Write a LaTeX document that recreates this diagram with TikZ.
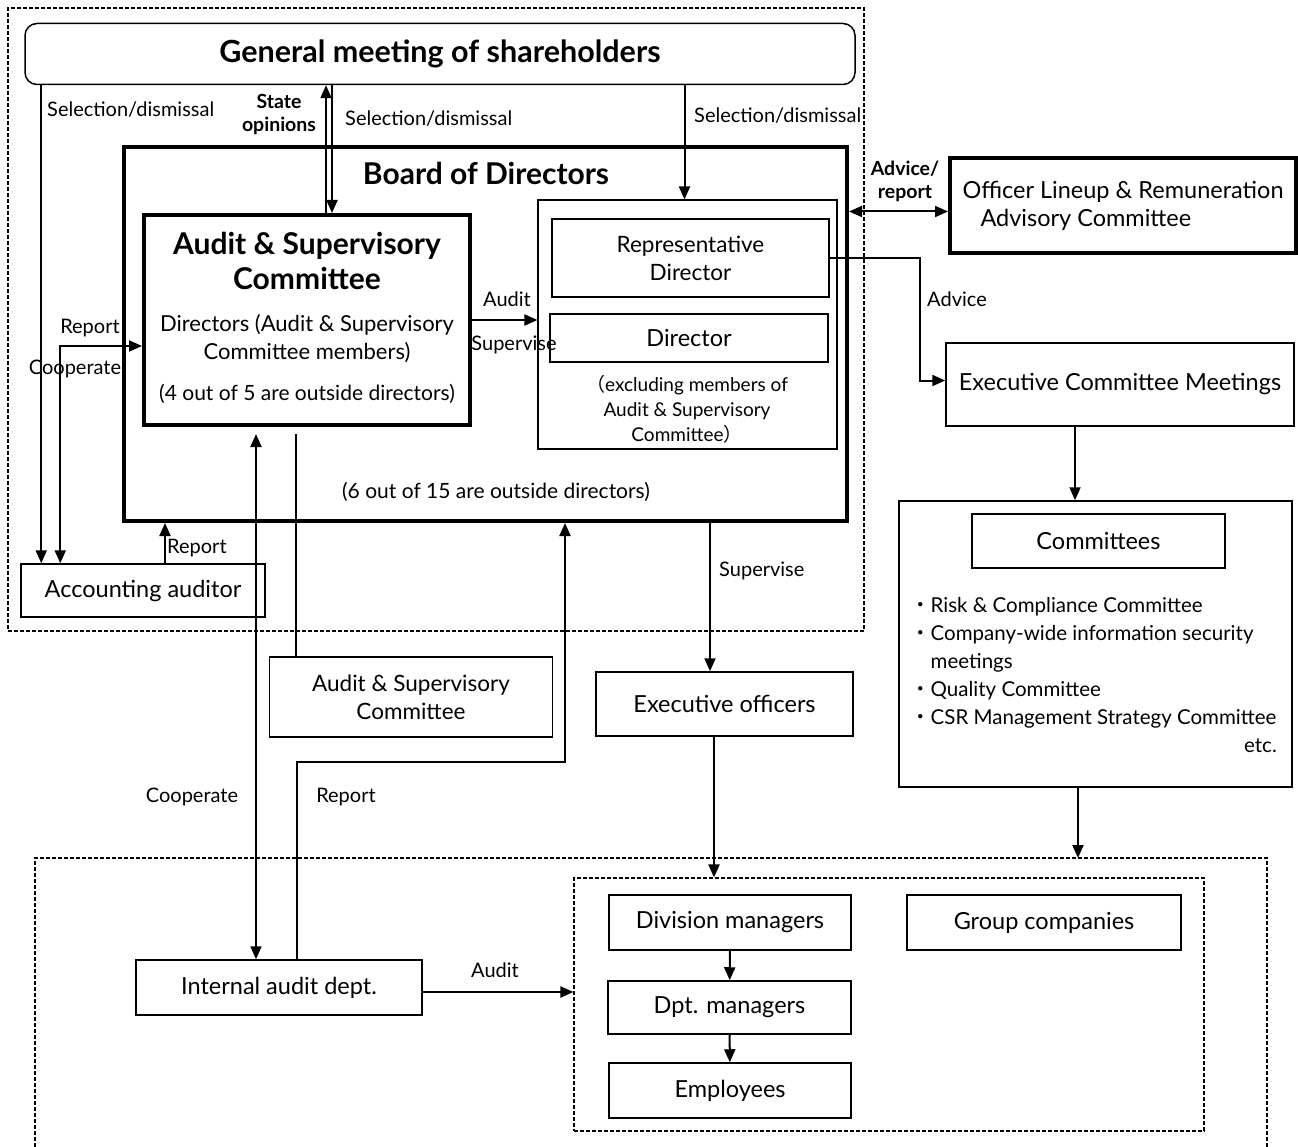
\documentclass[tikz,border=0pt]{standalone}
\usepackage{fontspec}
\setmainfont{Lato}
\newfontfamily\cjk{Noto Sans CJK JP}
\usetikzlibrary{arrows.meta,positioning,calc}
\tikzset{>={Triangle[length=13pt,width=11pt]},
         box/.style={draw, line width=1.5pt, align=center, inner sep=0pt, font=\fontsize{23.5}{28}\selectfont},
         thickbox/.style={box, line width=4pt},
         lbl/.style={inner sep=0pt, align=center, font=\fontsize{20}{23}\selectfont},
         boldlbl/.style={lbl, font=\fontsize{19.5}{23}\selectfont\bfseries},
         arr/.style={line width=2pt},
         grp/.style={draw, line width=1.1pt, dash pattern=on 4pt off 2pt, inner sep=0pt}
        }
\begin{document}
\begin{tikzpicture}[x=1pt, y=-1pt]
\useasboundingbox (0,0) rectangle (1298,1147);

\node[grp, minimum width=856pt, minimum height=623pt](top_area) at (436,319.5){};
\node[box, rounded corners=12pt, minimum width=830pt, minimum height=61pt, font=\fontsize{30.5}{34}\selectfont\bfseries](general_meeting) at (440,54){General meeting of shareholders};

\node[thickbox, minimum width=723pt, minimum height=374pt](board) at (485.5,334){};
\node[font=\fontsize{30}{34}\selectfont\bfseries](board_title) at (486,173){Board of Directors};
\node[lbl, font=\fontsize{21}{25}\selectfont](board_outside) at (496,492){(6 out of 15 are outside directors)};

\node[thickbox, minimum width=326pt, minimum height=210pt](audit_committee) at (307,320){};
\node[align=center, font=\fontsize{30}{35}\selectfont\bfseries](ac_title) at (307,261){Audit \& Supervisory\\Committee};
\node[align=center, font=\fontsize{22}{28}\selectfont](ac_members) at (307,339){Directors (Audit \& Supervisory\\Committee members)};
\node[font=\fontsize{21}{25}\selectfont](ac_outside) at (307,394){(4 out of 5 are outside directors)};

\node[box, line width=1.1pt, minimum width=299pt, minimum height=249pt](director_group) at (687.5,324.5){};
\node[box, minimum width=277pt, minimum height=78pt, font=\fontsize{22.5}{28}\selectfont](rep_director) at (690.5,258){Representative\\Director};
\node[box, minimum width=278pt, minimum height=48pt](director) at (689,338){Director};
\node[lbl, font=\fontsize{19}{25}\selectfont](excluding) at (687,409){{\cjk （}excluding members of\\Audit \& Supervisory\\Committee{\cjk ）}};

\node[box, minimum width=244pt, minimum height=53pt](acc_auditor) at (143,590.5){Accounting auditor};

\node[thickbox, align=left, minimum width=346pt, minimum height=95pt](lineup_committee) at (1123,205.5){Officer Lineup \& Remuneration\\\hspace*{18pt}Advisory Committee};
\node[box, minimum width=348pt, minimum height=83pt](exec_meetings) at (1120,384.5){Executive Committee Meetings};

\node[box, minimum width=393pt, minimum height=286pt](committee_group) at (1095.5,644){};
\node[box, minimum width=253pt, minimum height=54pt](committees) at (1098.5,541){Committees};
\node[lbl, anchor=north west, align=left, font=\fontsize{20.5}{28}\selectfont](committee_list) at (910,597){{\cjk ・}Risk \& Compliance Committee\\{\cjk ・}Company-wide information security\\\hphantom{\cjk ・}meetings\\{\cjk ・}Quality Committee\\{\cjk ・}CSR Management Strategy Committee};
\node[lbl, anchor=east, font=\fontsize{20.5}{28}\selectfont](committee_etc) at (1277,746){etc.};

\node[box, minimum width=283pt, minimum height=80pt, font=\fontsize{22.5}{28}\selectfont](lower_audit_committee) at (411,697){Audit \& Supervisory\\Committee};
\node[box, minimum width=257pt, minimum height=64pt](exec_officers) at (724.5,704){Executive officers};
\node[box, minimum width=286pt, minimum height=55pt](internal_audit) at (279,987.5){Internal audit dept.};

\coordinate (group_top) at (651,858);
\draw[grp] (35,1147) |- (1267,858) -- (1267,1147);
\node[grp, minimum width=630pt, minimum height=253pt](staff_group) at (889,1004.5){};
\node[box, minimum width=242pt, minimum height=55pt](division_managers) at (730,922.5){Division managers};
\node[box, minimum width=243pt, minimum height=53pt](dpt_managers) at (729.5,1007.5){Dpt. managers};
\node[box, minimum width=242pt, minimum height=55pt](employees) at (730,1090.5){Employees};
\node[box, minimum width=274pt, minimum height=55pt](group_companies) at (1044,922.5){Group companies};

\draw[->, arr]([xshift=17pt]general_meeting.south west) -- ([xshift=21pt]acc_auditor.north west);
\node[lbl, anchor=west](sel_left) at (47,110){Selection/dismissal};
\draw[<->, arr]([yshift=-26pt]audit_committee.west) -| ([xshift=40pt]acc_auditor.north west);
\node[lbl](report_left) at (90,328){Report};
\node[lbl](cooperate_left) at (75,369){Cooperate};

\coordinate (opinion_up) at ([xshift=19pt]audit_committee.north);
\coordinate (opinion_down) at ([xshift=25pt]audit_committee.north);
\draw[->, arr](opinion_up) -- (opinion_up |- general_meeting.south);
\draw[->, arr](opinion_down |- general_meeting.south) -- (opinion_down);
\node[boldlbl](state_opinions) at (279,115){State\\opinions};
\node[lbl, anchor=west](sel_mid) at (345,119){Selection/dismissal};

\draw[->, arr]([xshift=-3pt]director_group.north |- general_meeting.south) -- ([xshift=-3pt]director_group.north);
\node[lbl, anchor=west](sel_right) at (694,116){Selection/dismissal};

\draw[->, arr](audit_committee.east) -- (audit_committee.east -| director_group.west);
\node[lbl](audit_lbl) at (507,299){Audit};
\node[lbl](supervise_lbl) at (514,345){Supervise};

\draw[<->, arr]([yshift=-6pt]lineup_committee.west -| board.east) -- ([yshift=-6pt]lineup_committee.west);
\node[boldlbl](advice_report) at (905,181){Advice/\\report};

\draw[->, arr](rep_director.east) -| ([xshift=-25pt, yshift=4pt]exec_meetings.west) -- ([yshift=4pt]exec_meetings.west);
\node[lbl, anchor=west](advice_lbl) at (927,299){Advice};

\coordinate (meetings_out) at ([xshift=-45pt]exec_meetings.south);
\draw[->, arr](meetings_out) -- (meetings_out |- committee_group.north);
\coordinate (committees_out) at ([xshift=-17.5pt]committee_group.south);
\draw[->, arr](committees_out) -- (committees_out |- group_top);

\coordinate (supervise_in) at ([xshift=-14.5pt]exec_officers.north);
\draw[->, arr](supervise_in |- board.south) -- (supervise_in);
\node[lbl, anchor=west](supervise_lbl2) at (719,571){Supervise};
\coordinate (officers_out) at ([xshift=-10.5pt]exec_officers.south);
\draw[->, arr](officers_out) -- (officers_out |- staff_group.north);

\draw[->, arr](division_managers) -- (dpt_managers);
\draw[->, arr](dpt_managers) -- (employees);

\draw[->, arr]([yshift=-4.5pt]internal_audit.east) -- ([yshift=-4.5pt]internal_audit.east -| staff_group.west);
\node[lbl](audit_lbl2) at (495,970){Audit};

\coordinate (cooperate_top) at ([xshift=-51pt, yshift=-7pt]audit_committee.south);
\draw[<->, arr](cooperate_top) -- (cooperate_top |- internal_audit.north);
\node[lbl](cooperate_lbl) at (192,797){Cooperate};
\coordinate (lower_link) at ([xshift=-115pt]lower_audit_committee.north);
\draw[arr](lower_link) -- (lower_link |- cooperate_top);

\coordinate (report_corner) at (565,762);
\draw[->, arr]([xshift=18pt]internal_audit.north) |- (report_corner) -- (report_corner |- board.south);
\node[lbl](report_lbl) at (346,797){Report};

\coordinate (acc_report) at ([xshift=22pt]acc_auditor.north);
\draw[->, arr](acc_report) -- (acc_report |- board.south);
\node[lbl, anchor=west](report_acc) at (167,548){Report};

\end{tikzpicture}
\end{document}
